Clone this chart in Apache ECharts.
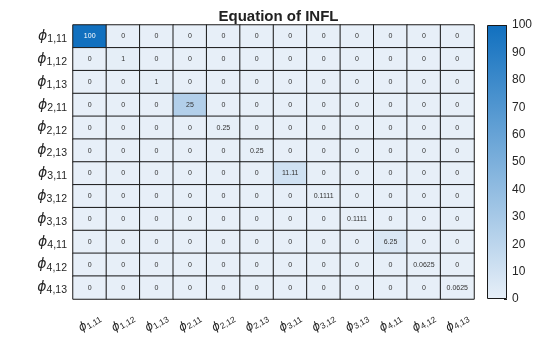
<!DOCTYPE html>
<html>
<head>
<meta charset="utf-8">
<script src="https://cdn.jsdelivr.net/npm/echarts@6/dist/echarts.min.js"></script>
<style>
  html, body { margin: 0; padding: 0; background: #fff; }
  #chart { width: 560px; height: 337px; }
</style>
</head>
<body>
<div id="chart"></div>
<script>
// Parameter names (subscripts of phi), same order on both axes
const paramNames = ['1,11', '1,12', '1,13', '2,11', '2,12', '2,13',
                    '3,11', '3,12', '3,13', '4,11', '4,12', '4,13'];

// Cell values, one row per parameter (top row first)
const matrix = [
  [100, 0, 0, 0, 0, 0, 0, 0, 0, 0, 0, 0],
  [0, 1, 0, 0, 0, 0, 0, 0, 0, 0, 0, 0],
  [0, 0, 1, 0, 0, 0, 0, 0, 0, 0, 0, 0],
  [0, 0, 0, 25, 0, 0, 0, 0, 0, 0, 0, 0],
  [0, 0, 0, 0, 0.25, 0, 0, 0, 0, 0, 0, 0],
  [0, 0, 0, 0, 0, 0.25, 0, 0, 0, 0, 0, 0],
  [0, 0, 0, 0, 0, 0, 11.11, 0, 0, 0, 0, 0],
  [0, 0, 0, 0, 0, 0, 0, 0.1111, 0, 0, 0, 0],
  [0, 0, 0, 0, 0, 0, 0, 0, 0.1111, 0, 0, 0],
  [0, 0, 0, 0, 0, 0, 0, 0, 0, 6.25, 0, 0],
  [0, 0, 0, 0, 0, 0, 0, 0, 0, 0, 0.0625, 0],
  [0, 0, 0, 0, 0, 0, 0, 0, 0, 0, 0, 0.0625]
];

// Colour scale
const scaleMin = 0;
const scaleMax = 100;
const scaleStep = 10;
const lowColor = '#e7eff8';
const highColor = '#1170bf';

const cells = [];
matrix.forEach((row, r) => row.forEach((v, c) => {
  // the darkest cells carry a white value label
  cells.push(v >= 60 ? { value: [c, r, v], label: { color: '#ffffff' } } : [c, r, v]);
}));

const chart = echarts.init(document.getElementById('chart'), null, { renderer: 'canvas' });
const fontFamily = 'Arial, "Liberation Sans", Helvetica, sans-serif';

chart.setOption({
  animation: false,
  backgroundColor: '#ffffff',
  title: {
    text: 'Equation of INFL',
    left: 273.5,
    top: 4,
    textAlign: 'center',
    textStyle: { fontSize: 15, fontWeight: 'bold', color: '#222', fontFamily }
  },
  grid: [
    { left: 73, top: 25, width: 401, height: 274 },
    { left: 487, top: 25, width: 20, height: 274 }
  ],
  xAxis: [
    {
      type: 'category', gridIndex: 0, data: paramNames,
      axisLine: { show: false }, axisTick: { show: false }, splitLine: { show: false },
      axisLabel: {
        interval: 0, rotate: 30, align: 'center', verticalAlign: 'middle', margin: 24,
        formatter: v => '{p|ϕ}{s|' + v + '}',
        rich: {
          p: { fontSize: 12, fontStyle: 'italic', color: '#262626', fontFamily: '"DejaVu Sans", sans-serif' },
          s: { fontSize: 8.5, color: '#262626', fontFamily, padding: [5, 0, 0, 0] }
        }
      }
    },
    { type: 'category', gridIndex: 1, data: ['c'], show: false }
  ],
  yAxis: [
    {
      type: 'category', gridIndex: 0, data: paramNames, inverse: true,
      axisLine: { show: false }, axisTick: { show: false }, splitLine: { show: false },
      axisLabel: {
        interval: 0, margin: 6,
        formatter: v => '{p|ϕ}{s|' + v + '}',
        rich: {
          p: { fontSize: 14, fontStyle: 'italic', color: '#262626', fontFamily: '"DejaVu Sans", sans-serif' },
          s: { fontSize: 10.5, color: '#262626', fontFamily, padding: [6, 0, 0, 0] }
        }
      }
    },
    {
      type: 'value', gridIndex: 1, position: 'right',
      min: scaleMin, max: scaleMax, interval: scaleStep,
      axisLine: { show: false },
      axisTick: { show: true, inside: true, length: 3, lineStyle: { color: '#222' } },
      splitLine: { show: false },
      axisLabel: { margin: 5, fontSize: 12, color: '#262626', fontFamily }
    }
  ],
  visualMap: {
    show: false, type: 'continuous', seriesIndex: 0,
    min: scaleMin, max: scaleMax,
    inRange: { color: [lowColor, highColor] }
  },
  series: [
    {
      type: 'heatmap', xAxisIndex: 0, yAxisIndex: 0,
      data: cells,
      itemStyle: { borderColor: '#1a1a1a', borderWidth: 1 },
      label: {
        show: true, fontSize: 7, fontFamily,
        formatter: p => String(p.value[2]),
        color: '#333'
      },
      emphasis: { disabled: true }
    },
    {
      type: 'bar', xAxisIndex: 1, yAxisIndex: 1,
      data: [scaleMax], barWidth: '100%', silent: true,
      itemStyle: {
        borderColor: '#1a1a1a', borderWidth: 1,
        color: new echarts.graphic.LinearGradient(0, 1, 0, 0, [
          { offset: 0, color: lowColor },
          { offset: 1, color: highColor }
        ])
      }
    }
  ]
});
</script>
</body>
</html>
